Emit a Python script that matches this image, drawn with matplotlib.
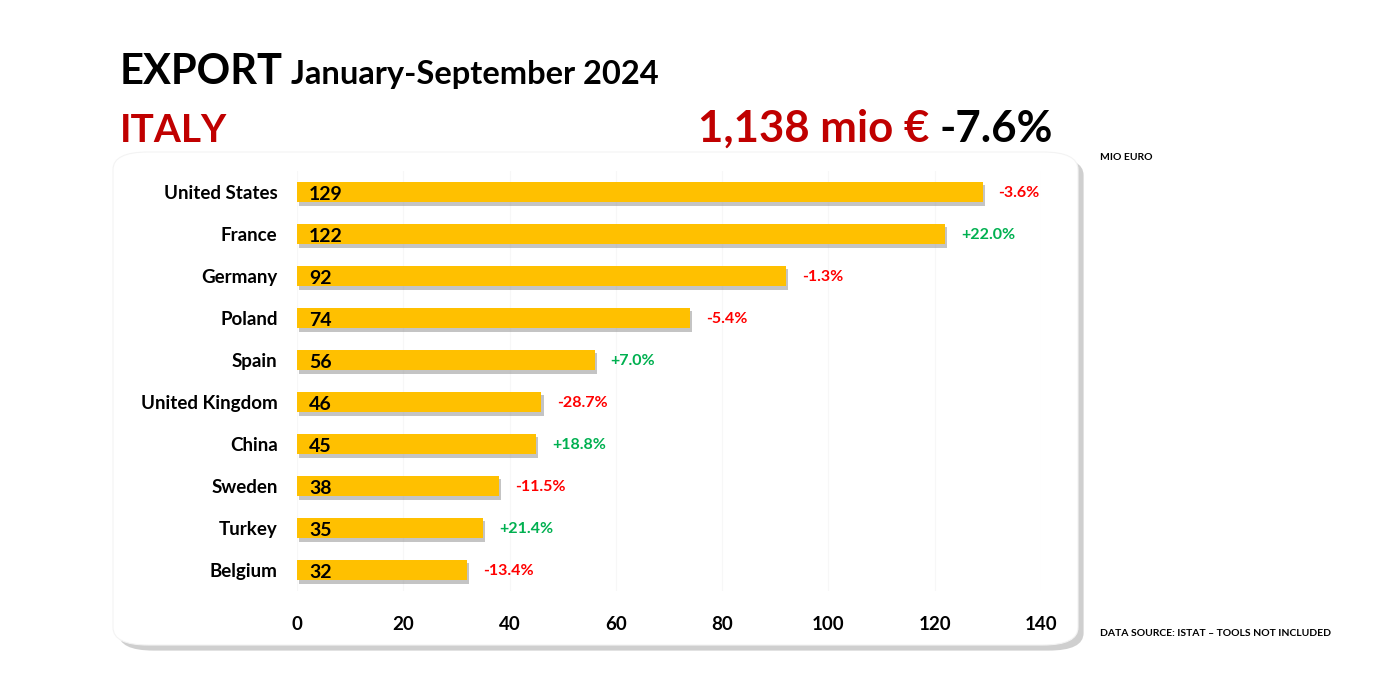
import numpy as np
import matplotlib
matplotlib.use("Agg")
import matplotlib.pyplot as plt
from matplotlib.patches import FancyBboxPatch
import matplotlib.patheffects as pe

plt.rcParams['font.family'] = ['Lato', 'DejaVu Sans']

countries = ['United States', 'France', 'Germany', 'Poland', 'Spain',
             'United Kingdom', 'China', 'Sweden', 'Turkey', 'Belgium']
values = [129, 122, 92, 74, 56, 46, 45, 38, 35, 32]
changes = ['-3.6%', '+22.0%', '-1.3%', '-5.4%', '+7.0%',
           '-28.7%', '+18.8%', '-11.5%', '+21.4%', '-13.4%']
total_txt = '1,138 mio €'
total_chg = '-7.6%'

W, H = 1400, 700
fig = plt.figure(figsize=(14, 7), dpi=100)
fig.patch.set_facecolor('white')

# white rounded panel with shadow
px0, py0, px1, py1 = 113, 152, 1078, 645
shadow = FancyBboxPatch((px0 / W + 0.004, 1 - py1 / H - 0.008),
                        (px1 - px0) / W, (py1 - py0) / H,
                        boxstyle="round,pad=0,rounding_size=0.025",
                        transform=fig.transFigure, facecolor='#b0b0b0',
                        edgecolor='none', alpha=0.6, zorder=-2)
fig.patches.append(shadow)
panel = FancyBboxPatch((px0 / W, 1 - py1 / H), (px1 - px0) / W, (py1 - py0) / H,
                       boxstyle="round,pad=0,rounding_size=0.025",
                       transform=fig.transFigure, facecolor='white',
                       edgecolor='#f3f3f3', linewidth=0.8, zorder=-1)
fig.patches.append(panel)

ax = fig.add_axes([297 / W, 1 - 591 / H, 744 / W, 420 / H])
ax.set_zorder(2)
ax.set_facecolor('none')
y = np.arange(len(countries))
bars = ax.barh(y, values, height=0.48, color='#FFC000', zorder=3,
               path_effects=[pe.SimplePatchShadow(offset=(1.5, -2.5), shadow_rgbFace='#8a8a8a', alpha=0.5),
                             pe.Normal()])
ax.set_ylim(len(countries) - 0.5, -0.5)
ax.set_xlim(0, 140)
ax.set_xticks(np.arange(0, 141, 20))
ax.set_yticks(y)
ax.set_yticklabels(countries, fontsize=13.5, fontweight='bold')
ax.tick_params(axis='both', length=0)
ax.tick_params(axis='y', pad=14)
ax.tick_params(axis='x', pad=18, labelsize=13.5)
for lab in ax.get_xticklabels():
    lab.set_fontweight('bold')
for s in ax.spines.values():
    s.set_visible(False)
ax.grid(axis='x', color='#f7f7f7', linewidth=0.8, zorder=0)
ax.set_axisbelow(True)

for yi, v, c in zip(y, values, changes):
    ax.text(2.3, yi + 0.06, str(v), va='center', ha='left', fontsize=14,
            fontweight='bold', color='black', zorder=4)
    col = '#00B050' if c.startswith('+') else '#FF0000'
    ax.text(v + 3.0, yi + 0.02, c, va='center', ha='left', fontsize=11.5,
            fontweight='bold', color=col, zorder=4)

# titles
fig.canvas.draw()
r = fig.canvas.get_renderer()
t1 = fig.text(120 / W, 1 - 84 / H, 'EXPORT', fontsize=30, fontweight='bold',
              color='black', va='baseline', ha='left')
ext = t1.get_window_extent(r)
fig.text((ext.x1 + 8) / W, 1 - 84 / H, 'January-September 2024', fontsize=23.5,
         fontweight='bold', color='black', va='baseline', ha='left')
fig.text(120 / W, 1 - 142 / H, 'ITALY', fontsize=28, fontweight='bold',
         color='#C00000', va='baseline', ha='left')
t2 = fig.text(1053 / W, 1 - 142 / H, total_chg, fontsize=31.5, fontweight='bold',
              color='black', va='baseline', ha='right')
ext2 = t2.get_window_extent(r)
fig.text((ext2.x0 - 10) / W, 1 - 142 / H, total_txt, fontsize=31.5, fontweight='bold',
         color='#C00000', va='baseline', ha='right')

fig.text(1100 / W, 1 - 158 / H, 'MIO EURO', fontsize=7.5, fontweight='bold',
         color='black', va='center', ha='left')
fig.text(1100 / W, 1 - 633 / H, 'DATA SOURCE: ISTAT – TOOLS NOT INCLUDED', fontsize=7.5,
         fontweight='bold', color='black', va='center', ha='left')

fig.savefig('out.png', dpi=100)
